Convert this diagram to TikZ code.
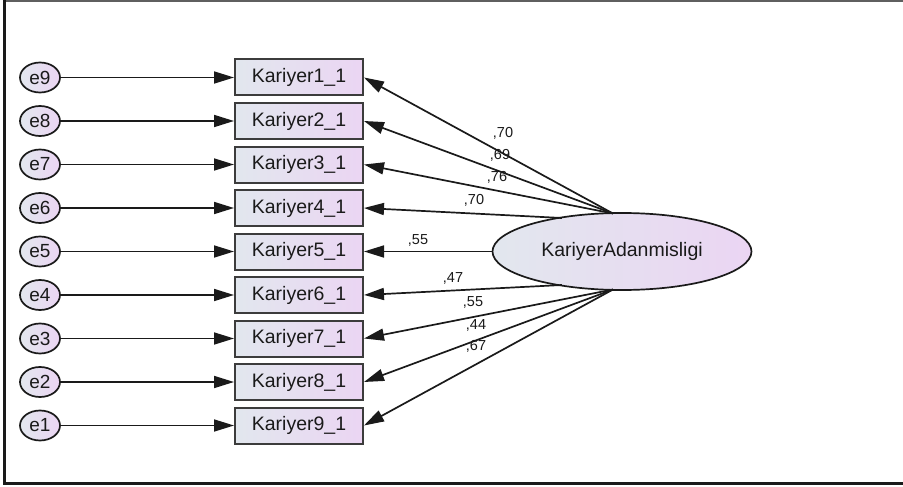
\documentclass[tikz,border=0pt]{standalone}
\usepackage{fontspec}
\setmainfont{Liberation Sans}
\usetikzlibrary{arrows.meta,shapes.geometric}
\definecolor{gl}{HTML}{E2E7EE}
\definecolor{gr}{HTML}{EBD5F3}
\definecolor{ink}{HTML}{1A1A1A}
\tikzset{
  obs/.style={draw=ink!85, line width=2pt, rectangle, minimum width=128pt, minimum height=36pt,
    left color=gl, right color=gr, inner sep=0pt, text=ink, font=\fontsize{19.5}{21}\selectfont},
  err/.style={draw=ink, line width=1.7pt, ellipse, minimum width=40pt, minimum height=30pt,
    left color=gl, right color=gr, inner sep=0pt, text=ink, font=\fontsize{19}{21}\selectfont},
  lat/.style={draw=ink, line width=1.7pt, ellipse, minimum width=259pt, minimum height=77pt,
    left color=gl, right color=gr, inner sep=0pt, text=ink, font=\fontsize{19.5}{21}\selectfont},
  arr/.style={draw=ink, line width=1.7pt, -{Triangle[length=20pt,width=12pt]}},
  lbl/.style={font=\fontsize{14.5}{16}\selectfont, text=ink, inner sep=0pt}
}
\begin{document}
\begin{tikzpicture}[x=1pt,y=-1pt]
\useasboundingbox (0,0) rectangle (903,487);
\fill[white] (0,0) rectangle (903,487);
\draw[line width=1.2pt, ink!70] (910,1) -- (4.5,1);
\draw[line width=2.2pt, ink] (4.5,0) -- (4.5,483.5) -- (910,483.5);
\foreach \i/\e [count=\r from 0] in {1/9,2/8,3/7,4/6,5/5,6/4,7/3,8/2,9/1}{
  \node[obs] (K\i) at (299,77.5+43.5*\r) {Kariyer\i\_1};
  \node[err] (e\e) at (40,77.5+43.5*\r) {e\e};
  \draw[arr] (e\e) -- (K\i);
}
\node[lat] (L) at (622,251.5) {KariyerAdanmisligi};
\coordinate (Lt) at (613,213.5);
\coordinate (Lb) at (613,289.5);
\coordinate (L4) at (562,218);
\coordinate (L6) at (562,285);
\draw[arr] (Lt) -- (K1.east);
\draw[arr] (Lt) -- (K2.east);
\draw[arr] (Lt) -- (K3.east);
\draw[arr] (L4) -- (K4.east);
\draw[arr] (L.west) -- (K5.east);
\draw[arr] (L6) -- (K6.east);
\draw[arr] (Lb) -- (K7.east);
\draw[arr] (Lb) -- (K8.east);
\draw[arr] (Lb) -- (K9.east);
\node[lbl] (p1) at (503,133) {,70};
\node[lbl] (p2) at (500,155.5) {,69};
\node[lbl] (p3) at (497,177) {,76};
\node[lbl] (p4) at (474,200) {,70};
\node[lbl] (p5) at (418,240) {,55};
\node[lbl] (p6) at (453,278) {,47};
\node[lbl] (p7) at (473,302) {,55};
\node[lbl] (p8) at (476,325) {,44};
\node[lbl] (p9) at (476,346) {,67};
\end{tikzpicture}
\end{document}
